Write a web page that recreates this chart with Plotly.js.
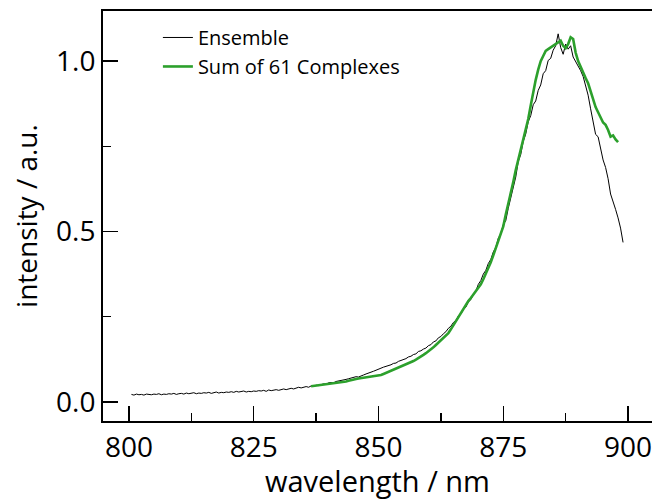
<!DOCTYPE html>
<html>
<head>
<meta charset="utf-8">
<script src="https://cdn.plot.ly/plotly-3.0.1.min.js"></script>
<style>html,body{margin:0;padding:0;background:#fff;}#chart{width:652px;height:500px;}</style>
</head>
<body>
<div id="chart"></div>
<script>
// Ensemble spectrum, sampled every 0.5 nm starting at 800.5 nm
const ensembleStart = 800.5;
const ensembleStep = 0.5;
const ensembleValues = [
  0.022,0.020,0.023,0.021,0.022,0.020,0.023,0.022,0.021,0.023,
  0.022,0.024,0.021,0.023,0.022,0.024,0.023,0.025,0.022,0.024,
  0.025,0.023,0.026,0.024,0.025,0.027,0.024,0.026,0.025,0.027,
  0.026,0.028,0.025,0.027,0.029,0.026,0.028,0.027,0.029,0.028,
  0.030,0.028,0.031,0.029,0.030,0.032,0.029,0.031,0.030,0.032,
  0.031,0.033,0.032,0.034,0.031,0.035,0.033,0.034,0.036,0.034,
  0.036,0.038,0.036,0.039,0.040,0.038,0.041,0.043,0.041,0.044,
  0.045,0.043,0.047,0.046,0.049,0.048,0.051,0.053,0.052,0.056,
  0.057,0.056,0.060,0.061,0.063,0.065,0.066,0.068,0.070,0.072,
  0.074,0.073,0.077,0.079,0.082,0.084,0.087,0.090,0.093,0.097,
  0.099,0.102,0.104,0.108,0.109,0.113,0.114,0.119,0.121,0.125,
  0.127,0.132,0.134,0.139,0.141,0.148,0.150,0.155,0.158,0.165,
  0.168,0.176,0.179,0.188,0.192,0.200,0.206,0.216,0.222,0.233,
  0.239,0.252,0.258,0.271,0.278,0.293,0.300,0.315,0.325,0.345,
  0.356,0.375,0.386,0.406,0.418,0.440,0.453,0.480,0.493,0.520,
  0.532,0.568,0.596,0.632,0.660,0.705,0.726,0.764,0.786,0.822,
  0.840,0.872,0.883,0.914,0.930,0.963,0.972,1.002,1.008,1.032,
  1.045,1.080,1.040,1.020,1.050,1.035,1.045,1.012,1.000,0.985,
  0.972,0.955,0.925,0.900,0.860,0.820,0.785,0.778,0.740,0.710,
  0.688,0.655,0.610,0.590,0.565,0.540,0.510,0.468
];

// Sum of 61 complexes, sampled every 0.5 nm starting at 836.5 nm
const sumStart = 836.5;
const sumStep = 0.5;
const sumValues = [
  0.046,0.047,0.046,0.048,0.049,0.049,0.051,0.052,
  0.052,0.053,0.054,0.055,0.056,0.058,0.060,0.062,0.063,0.066,
  0.067,0.069,0.070,0.071,0.072,0.073,0.073,0.074,0.075,0.077,
  0.079,0.082,0.085,0.088,0.091,0.095,0.098,0.101,0.105,0.108,
  0.111,0.114,0.117,0.120,0.124,0.128,0.133,0.138,0.143,0.148,
  0.154,0.160,0.167,0.174,0.180,0.186,0.193,0.202,0.213,0.225,
  0.235,0.248,0.262,0.275,0.287,0.296,0.305,0.315,0.325,0.335,
  0.345,0.360,0.376,0.393,0.410,0.430,0.450,0.470,0.490,0.515,
  0.550,0.580,0.610,0.645,0.680,0.710,0.740,0.770,0.800,0.830,
  0.870,0.910,0.945,0.975,1.000,1.015,1.030,1.035,1.040,1.045,
  1.050,1.055,1.060,1.045,1.038,1.050,1.070,1.065,1.025,1.000,
  0.982,0.965,0.950,0.935,0.910,0.885,0.865,0.850,0.835,0.820,
  0.813,0.798,0.778,0.782,0.770,0.762
];

const seriesNames = ['Ensemble', 'Sum of 61 Complexes'];
const xTickVals = [800, 825, 850, 875, 900];
const yTickVals = [0.0, 0.5, 1.0];
const yTickText = ['0.0', '0.5', '1.0'];

const FONT = '"Open Sans", "Noto Sans", sans-serif';

const traces = [
  {
    type: 'scatter', mode: 'lines', name: seriesNames[0],
    x0: ensembleStart, dx: ensembleStep, y: ensembleValues,
    line: {color: '#000000', width: 1}
  },
  {
    type: 'scatter', mode: 'lines', name: seriesNames[1],
    x0: sumStart, dx: sumStep, y: sumValues,
    line: {color: '#2ca02c', width: 2.6}
  }
];

const layout = {
  width: 652, height: 500,
  margin: {l: 103, r: 0, t: 11, b: 79, pad: 0},
  paper_bgcolor: '#ffffff', plot_bgcolor: '#ffffff',
  font: {family: FONT, color: '#000000', size: 25},
  showlegend: true,
  legend: {
    x: 0.1, y: 0.983, xanchor: 'left', yanchor: 'top',
    bgcolor: 'rgba(0,0,0,0)', borderwidth: 0,
    font: {family: FONT, size: 20, color: '#000'},
    tracegroupgap: 0
  },
  xaxis: {
    range: [794.8, 904.8],
    tickmode: 'array', tickvals: xTickVals,
    ticks: 'inside', ticklen: 15, tickwidth: 1.5, tickcolor: '#000',
    minor: {ticks: 'inside', ticklen: 8, tickwidth: 1.5, tickcolor: '#000', dtick: 12.5, tick0: 800, showgrid: false},
    showline: true, linecolor: '#000', linewidth: 2, mirror: true,
    showgrid: false, zeroline: false,
    ticklabeloverflow: 'allow',
    tickfont: {family: FONT, size: 28, color: '#000'},
    title: {text: 'wavelength / nm', font: {family: FONT, size: 29, color: '#000'}, standoff: 8}
  },
  yaxis: {
    range: [-0.056, 1.147],
    tickmode: 'array', tickvals: yTickVals, ticktext: yTickText,
    ticks: 'inside', ticklen: 15, tickwidth: 1.5, tickcolor: '#000',
    minor: {ticks: 'inside', ticklen: 8, tickwidth: 1.5, tickcolor: '#000', dtick: 0.25, tick0: 0, showgrid: false},
    showline: true, linecolor: '#000', linewidth: 2, mirror: false,
    showgrid: false, zeroline: false,
    tickfont: {family: FONT, size: 28, color: '#000'},
    title: {text: 'intensity / a.u.', font: {family: FONT, size: 28, color: '#000'}, standoff: 10}
  }
};

Plotly.newPlot('chart', traces, layout, {displayModeBar: false, staticPlot: true});
</script>
</body>
</html>
